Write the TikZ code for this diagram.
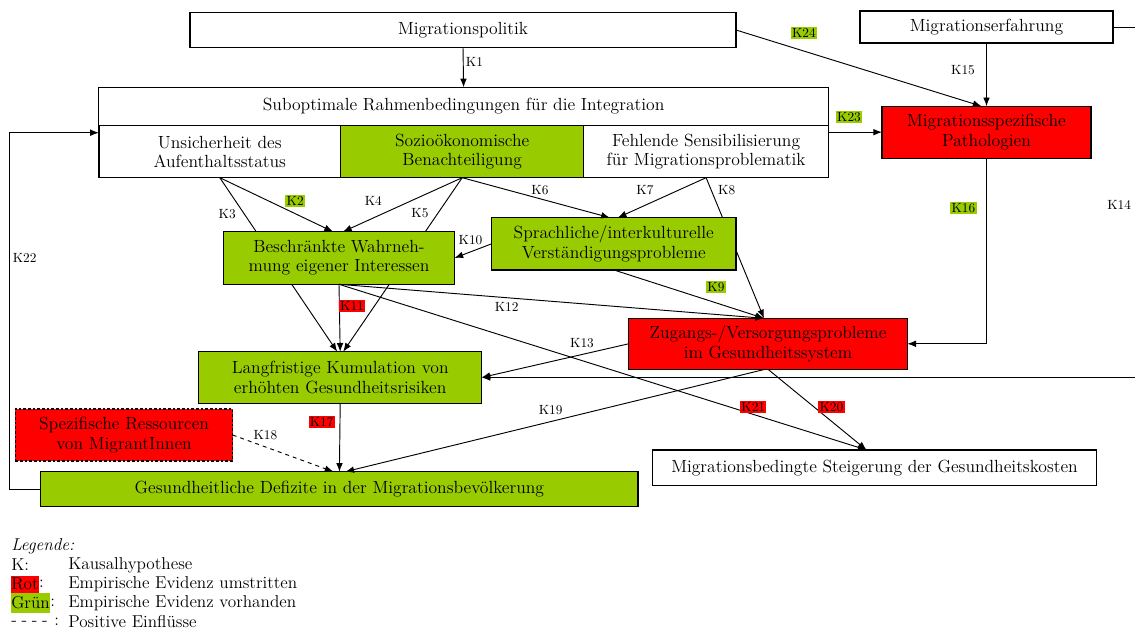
\documentclass[tikz,border=0pt]{standalone}
\usetikzlibrary{arrows.meta,positioning}
\definecolor{evgreen}{RGB}{153,204,0}
\definecolor{evred}{RGB}{255,0,0}
\pgfdeclarelayer{bg}
\pgfsetlayers{bg,main}
\def\pxu{0.75pt}

\begin{document}
\begin{tikzpicture}[x=0.75pt,y=-0.75pt]

\tikzset{line/.style={draw,line width=0.7pt}}
\tikzset{arrow/.style={line,->,>={Latex[length=6.5pt,width=5pt]}}}
\tikzset{box/.style={line,line width=0.9pt,rectangle,inner sep=2pt,outer sep=0pt,align=center,fill=white,font=\fontsize{13.2}{14.5}\selectfont}}
\tikzset{greenbox/.style={box,fill=evgreen}}
\tikzset{redbox/.style={box,fill=evred}}
\tikzset{klabel/.style={inner sep=1pt,font=\fontsize{10}{11}\selectfont}}
\tikzset{greenlabel/.style={klabel,fill=evgreen}}
\tikzset{redlabel/.style={klabel,fill=evred}}
\tikzset{legtext/.style={inner sep=0pt,anchor=west,font=\fontsize{12.9}{14.5}\selectfont}}

\useasboundingbox (0,0) rectangle (1135,630);

% top row
\node[box,minimum width=546*\pxu,minimum height=35*\pxu] (politik) at (463,30) {Migrationspolitik};
\node[box,minimum width=253*\pxu,minimum height=32*\pxu] (erfahrung) at (986.5,27) {Migrationserfahrung};

% rahmenbedingungen
\node[box,minimum width=729.5*\pxu,minimum height=38.4*\pxu] (rahmen) at (463.6,106.5) {Suboptimale Rahmenbedingungen f\"ur die Integration};
\node[box,minimum width=241.8*\pxu,minimum height=52*\pxu] (status) at (219.8,151.7) {Unsicherheit des\\Aufenthaltsstatus};
\node[greenbox,minimum width=243.2*\pxu,minimum height=52*\pxu] (benachteiligung) at (462.2,151.7) {Sozio\"okonomische\\Benachteiligung};
\node[box,minimum width=244.6*\pxu,minimum height=52*\pxu] (sensibilisierung) at (706.1,151.7) {Fehlende Sensibilisierung\\f\"ur Migrationsproblematik};
\node[redbox,minimum width=209*\pxu,minimum height=52*\pxu] (pathologie) at (986.5,132.2) {Migrationsspezifische\\Pathologien};

% middle
\node[greenbox,minimum width=231*\pxu,minimum height=52.6*\pxu] (wahrnehmung) at (339,258) {Beschr\"ankte Wahrneh-\\mung eigener Interessen};
\node[greenbox,minimum width=244.3*\pxu,minimum height=52.3*\pxu] (sprachlich) at (613.8,243.8) {Sprachliche/interkulturelle\\Verst\"andigungsprobleme};
\node[redbox,minimum width=278.7*\pxu,minimum height=51*\pxu] (zugang) at (768,343.8) {Zugangs-/Versorgungsprobleme\\im Gesundheitssystem};
\node[greenbox,minimum width=282.8*\pxu,minimum height=51.6*\pxu] (langfristig) at (340.2,377.5) {Langfristige Kumulation von\\erh\"ohten Gesundheitsrisiken};

% bottom
\node[redbox,dash pattern=on 2pt off 1.5pt,minimum width=217.3*\pxu,minimum height=52*\pxu] (spezifisch) at (124,435) {Spezifische Ressourcen\\von MigrantInnen};
\node[greenbox,minimum width=597.3*\pxu,minimum height=35*\pxu] (defizite) at (339.4,489.2) {Gesundheitliche Defizite in der Migrationsbev\"olkerung};
\node[box,minimum width=444*\pxu,minimum height=35.7*\pxu] (steigerung) at (874.5,467.8) {Migrationsbedingte Steigerung der Gesundheitskosten};

% connectors behind the boxes
\begin{pgfonlayer}{bg}
\draw[arrow] (status.south) -- ([xshift=-3*\pxu]langfristig.north);
\draw[arrow] (benachteiligung.south) -- ([xshift=3*\pxu]langfristig.north);
\draw[arrow] (sensibilisierung.south) -- ([xshift=-4*\pxu]zugang.north);
\end{pgfonlayer}

\draw[arrow] (politik.south) -- (rahmen.north);
\draw[arrow] (politik.east) -- ([xshift=-5*\pxu]pathologie.north);
\draw[arrow] (erfahrung.south) -- (pathologie.north);
\draw[arrow] (pathologie.west -| sensibilisierung.east) -- (pathologie.west);
\draw[arrow] (pathologie.south) |- (zugang.east);
\draw[arrow] (erfahrung.east) -- ++(40,0) |- (langfristig.east);
\draw[arrow] (defizite.west) -- ++(-31,0) |- ([yshift=-7*\pxu]status.north west);

\draw[arrow] (status.south) -- ([xshift=-6*\pxu]wahrnehmung.north);
\draw[arrow] (benachteiligung.south) -- ([xshift=4*\pxu]wahrnehmung.north);
\draw[arrow] (benachteiligung.south) -- ([xshift=-4*\pxu]sprachlich.north);
\draw[arrow] (sensibilisierung.south) -- ([xshift=4*\pxu]sprachlich.north);
\draw[arrow] (sprachlich.west) -- (wahrnehmung.east);
\draw[arrow] (sprachlich.south) -- ([xshift=-4*\pxu]zugang.north);
\draw[arrow] (wahrnehmung.south) -- (langfristig.north);
\draw[arrow] (wahrnehmung.south) -- ([xshift=-4*\pxu]zugang.north);
\draw[arrow] (wahrnehmung.south) -- ([xshift=-8*\pxu]steigerung.north);
\draw[arrow] (zugang.west) -- (langfristig.east);
\draw[arrow] (langfristig.south) -- (defizite.north);
\draw[arrow,dashed] (spezifisch.east) -- ([xshift=-6*\pxu]defizite.north);
\draw[arrow] ([xshift=-3*\pxu]zugang.south) -- ([xshift=6*\pxu]defizite.north);
\draw[arrow] (zugang.south) -- ([xshift=-8*\pxu]steigerung.north);

% hypothesis labels
\node[klabel] (k1) at (474.4,61.7) {K1};
\node[greenlabel] (k2) at (295.2,200.7) {K2};
\node[klabel] (k3) at (227.2,214.3) {K3};
\node[klabel] (k4) at (373.3,200.7) {K4};
\node[klabel] (k5) at (420,213.3) {K5};
\node[klabel] (k6) at (540,190) {K6};
\node[klabel] (k7) at (645,190) {K7};
\node[klabel] (k8) at (726.7,190) {K8};
\node[greenlabel] (k9) at (716,286.7) {K9};
\node[klabel] (k10) at (470.5,240) {K10};
\node[redlabel] (k11) at (352,306) {K11};
\node[klabel] (k12) at (506.7,306.7) {K12};
\node[klabel] (k13) at (582,343.3) {K13};
\node[klabel] (k14) at (1119.2,205) {K14};
\node[klabel] (k15) at (963,70) {K15};
\node[greenlabel] (k16) at (963.4,208.3) {K16};
\node[redlabel] (k17) at (321.7,421.7) {K17};
\node[klabel] (k18) at (265.4,435) {K18};
\node[klabel] (k19) at (550.7,410) {K19};
\node[redlabel] (k20) at (831.4,406.7) {K20};
\node[redlabel] (k21) at (753.3,406.7) {K21};
\node[klabel] (k22) at (24.7,258) {K22};
\node[greenlabel] (k23) at (849,117) {K23};
\node[greenlabel] (k24) at (803.9,33) {K24};

% legend
\node[legtext] (legende) at (11,546) {\textit{Legende:}};
\node[legtext] (legk) at (11,565) {K:};
\node[legtext] (legkt) at (68,565) {Kausalhypothese};
\node[legtext,fill=evred,minimum height=17*\pxu] (legrot) at (11,584) {Rot};
\node[legtext,right=0pt of legrot] (legrotc) {:};
\node[legtext] (legrott) at (68,584) {Empirische Evidenz umstritten};
\node[legtext,fill=evgreen,minimum height=20*\pxu] (leggruen) at (11,603) {Gr\"un};
\node[legtext,right=0pt of leggruen] (leggruenc) {:};
\node[legtext] (leggruent) at (68,603) {Empirische Evidenz vorhanden};
\node[legtext] (legdash) at (11,622) {-\hspace{3.5pt}-\hspace{3.5pt}-\hspace{3.5pt}-\hspace{5pt}:};
\node[legtext] (legdasht) at (68,622) {Positive Einfl\"usse};

\end{tikzpicture}
\end{document}
